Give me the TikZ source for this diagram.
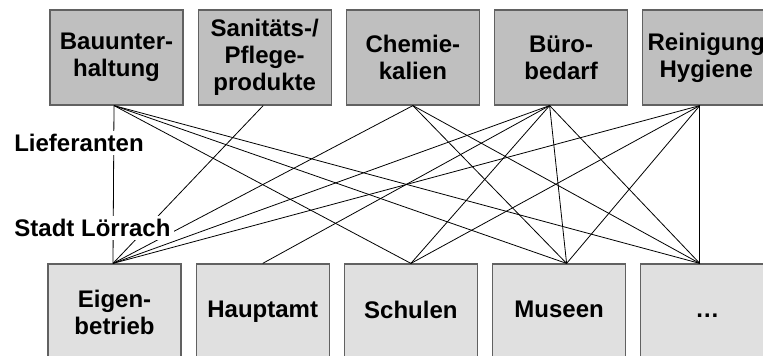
\documentclass[tikz,border=0pt]{standalone}
\usepackage{fontspec}
\setmainfont{Liberation Sans}
\usetikzlibrary{positioning}

\begin{document}
\begin{tikzpicture}[x=1pt, y=-1pt, node distance=14pt,
                    every node/.style={font=\fontsize{24}{27}\selectfont\bfseries},
                    supplier/.style={draw=black!62, line width=1.2pt, fill=black!25, align=center,
                                     minimum width=133pt, minimum height=95pt, inner sep=0pt},
                    unit/.style={supplier, fill=black!12, minimum height=96pt},
                    tag/.style={fill=white, inner sep=3pt},
                    link/.style={line width=0.8pt}]

    \useasboundingbox (0,0) rectangle (763,356);

    % Lieferanten
    \node[supplier] (bau) at (116.5,57.5) {Bauunter-\\haltung};
    \node[supplier] (san) [right=of bau] {Sanitäts-/\\Pflege-\\produkte};
    \node[supplier] (che) [right=of san] {Chemie-\\kalien};
    \node[supplier] (bue) [right=of che] {Büro-\\bedarf};
    \node[supplier, minimum width=127pt] (rei) [right=of bue] {Reinigung\\Hygiene};

    % Stadt
    \node[unit] (eig) at (114.5,312) {Eigen-\\betrieb};
    \node[unit] (hau) [right=of eig] {\vphantom{Hp}Hauptamt};
    \node[unit] (sch) [right=of hau] {\vphantom{Hp}Schulen};
    \node[unit] (mus) [right=of sch] {\vphantom{Hp}Museen};
    \node[unit] (etc) [right=of mus] {\vphantom{Hp}\dots};

    \coordinate (bau-o) at ([xshift=-2.5pt]bau.south);
    \coordinate (san-o) at ([xshift=-1.5pt]san.south);
    \coordinate (che-o) at (che.south);
    \coordinate (bue-o) at ([xshift=-11.5pt]bue.south);
    \coordinate (rei-o) at ([xshift=-6.5pt]rei.south);

    \coordinate (eig-i) at ([xshift=-1.5pt]eig.north);
    \coordinate (hau-i) at (hau.north);
    \coordinate (sch-i) at (sch.north);
    \coordinate (mus-i) at ([xshift=7.5pt]mus.north);
    \coordinate (etc-i) at ([xshift=-7.5pt]etc.north);

    \path[link]
    (bau-o) edge (eig-i)
    (bau-o) edge (sch-i)
    (bau-o) edge (mus-i)
    (bau-o) edge (etc-i)
    (san-o) edge (eig-i)
    (che-o) edge (eig-i)
    (che-o) edge (mus-i)
    (che-o) edge (etc-i)
    (bue-o) edge (eig-i)
    (bue-o) edge (hau-i)
    (bue-o) edge (sch-i)
    (bue-o) edge (mus-i)
    (bue-o) edge (etc-i)
    (rei-o) edge (eig-i)
    (rei-o) edge (sch-i)
    (rei-o) edge (mus-i)
    (rei-o) edge (etc-i);

    \node[tag] (lief) at (79,143) {Lieferanten};
    \node[tag] (stadt) at (92.5,228) {Stadt Lörrach};
\end{tikzpicture}
\end{document}
